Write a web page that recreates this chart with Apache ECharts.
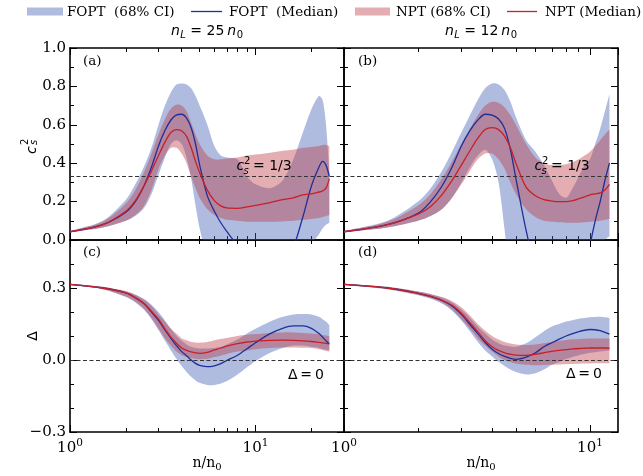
<!DOCTYPE html>
<html>
<head>
<meta charset="utf-8">
<script src="https://cdn.jsdelivr.net/npm/echarts@6.0.0/dist/echarts.min.js"></script>
<style>
html,body{margin:0;padding:0;background:#ffffff;}
#chart{width:643px;height:476px;}
</style>
</head>
<body>
<div id="chart"></div>
<script>
// ---------------- data ----------------
// x grids (n/n0)
const nLeft  = [1, 1.5, 2, 2.25, 2.5, 2.75, 3, 3.25, 3.5, 3.75, 4, 4.25, 4.5, 4.75, 5, 5.5, 6, 6.5, 7, 8, 9, 10, 12, 14, 16, 18, 20, 22, 23, 24, 25];
const nRight = [1, 1.5, 2, 2.25, 2.5, 2.75, 3, 3.25, 3.5, 3.75, 4, 4.25, 4.5, 4.75, 5, 5.5, 6, 6.5, 7, 7.5, 8, 8.5, 9, 9.5, 10, 10.5, 11, 11.5, 12];

// (a) c_s^2, n_L = 25 n0
const aFoptMed = [0.043,0.08,0.145,0.2,0.28,0.38,0.49,0.57,0.625,0.652,0.655,0.635,0.585,0.5,0.39,0.23,0.15,0.09,0.045,-0.03,-0.1,-0.15,-0.2,-0.15,-0.04,0.12,0.28,0.38,0.41,0.39,0.33];
const aFoptLo  = [0.04,0.065,0.1,0.125,0.165,0.24,0.34,0.43,0.5,0.52,0.5,0.43,0.32,0.18,0.06,-0.1,-0.3,-0.3,-0.3,-0.3,-0.3,-0.3,-0.3,-0.3,-0.3,-0.25,-0.03,0.03,0.06,0.08,0.09];
const aFoptHi  = [0.046,0.1,0.21,0.29,0.38,0.48,0.6,0.7,0.77,0.81,0.815,0.81,0.79,0.75,0.7,0.6,0.49,0.44,0.43,0.42,0.33,0.29,0.27,0.31,0.42,0.56,0.68,0.75,0.73,0.6,0.35];
const aNptMed  = [0.043,0.08,0.15,0.205,0.28,0.36,0.44,0.51,0.56,0.575,0.568,0.54,0.48,0.41,0.35,0.26,0.205,0.178,0.167,0.165,0.172,0.18,0.195,0.21,0.22,0.235,0.24,0.25,0.255,0.27,0.32];
const aNptLo   = [0.04,0.065,0.1,0.13,0.175,0.26,0.37,0.44,0.48,0.48,0.45,0.4,0.33,0.27,0.22,0.16,0.13,0.115,0.105,0.1,0.095,0.095,0.095,0.097,0.1,0.105,0.11,0.115,0.12,0.125,0.13];
const aNptHi   = [0.046,0.095,0.19,0.26,0.35,0.45,0.55,0.63,0.685,0.705,0.7,0.67,0.61,0.55,0.5,0.44,0.42,0.42,0.425,0.43,0.44,0.445,0.455,0.465,0.47,0.48,0.485,0.49,0.495,0.495,0.49];

// (b) c_s^2, n_L = 12 n0
const bFoptMed = [0.043,0.08,0.139,0.2,0.28,0.38,0.49,0.57,0.625,0.655,0.65,0.63,0.58,0.47,0.32,0.05,-0.15,-0.3,-0.35,-0.35,-0.35,-0.35,-0.3,-0.2,-0.03,0.1,0.2,0.31,0.4];
const bFoptLo  = [0.04,0.065,0.1,0.125,0.16,0.22,0.3,0.38,0.44,0.47,0.42,0.3,0.05,-0.2,-0.3,-0.3,-0.3,-0.3,-0.3,-0.3,-0.3,-0.3,-0.3,-0.3,-0.25,-0.15,-0.05,0.0,0.02];
const bFoptHi  = [0.046,0.1,0.2,0.27,0.36,0.46,0.56,0.65,0.73,0.79,0.815,0.81,0.78,0.72,0.64,0.52,0.46,0.39,0.31,0.24,0.22,0.27,0.33,0.39,0.42,0.5,0.58,0.67,0.76];
const bNptMed  = [0.043,0.08,0.135,0.175,0.235,0.31,0.39,0.465,0.53,0.575,0.585,0.575,0.54,0.48,0.4,0.275,0.23,0.21,0.203,0.2,0.2,0.205,0.215,0.225,0.235,0.24,0.245,0.26,0.29];
const bNptLo   = [0.04,0.065,0.1,0.125,0.16,0.22,0.29,0.36,0.42,0.45,0.45,0.42,0.37,0.3,0.24,0.16,0.12,0.1,0.095,0.092,0.09,0.09,0.09,0.092,0.095,0.098,0.1,0.105,0.11];
const bNptHi   = [0.046,0.095,0.18,0.24,0.32,0.41,0.5,0.58,0.65,0.7,0.72,0.715,0.69,0.65,0.6,0.5,0.43,0.4,0.39,0.39,0.395,0.405,0.42,0.44,0.46,0.49,0.52,0.55,0.575];

// (c) Delta, n_L = 25 n0
const cFoptMed = [0.315,0.3,0.28,0.26,0.235,0.2,0.165,0.125,0.09,0.06,0.035,0.018,0.0,-0.014,-0.022,-0.028,-0.024,-0.015,-0.002,0.02,0.047,0.072,0.11,0.132,0.142,0.142,0.132,0.11,0.095,0.08,0.068];
const cFoptLo  = [0.312,0.295,0.262,0.24,0.21,0.17,0.125,0.08,0.04,0.005,-0.025,-0.05,-0.07,-0.085,-0.095,-0.104,-0.104,-0.098,-0.088,-0.06,-0.03,-0.005,0.03,0.05,0.06,0.06,0.055,0.05,0.045,0.043,0.04];
const cFoptHi  = [0.318,0.305,0.285,0.272,0.255,0.23,0.2,0.165,0.13,0.1,0.08,0.065,0.055,0.05,0.048,0.048,0.05,0.055,0.065,0.085,0.11,0.13,0.16,0.18,0.19,0.192,0.19,0.18,0.17,0.16,0.145];
const cNptMed  = [0.315,0.3,0.28,0.26,0.236,0.203,0.17,0.13,0.095,0.07,0.05,0.04,0.034,0.03,0.028,0.032,0.042,0.05,0.058,0.068,0.075,0.079,0.082,0.083,0.082,0.08,0.077,0.073,0.071,0.069,0.067];
const cNptLo   = [0.312,0.295,0.265,0.243,0.215,0.175,0.13,0.09,0.06,0.035,0.02,0.012,0.008,0.005,0.003,0.005,0.012,0.018,0.025,0.035,0.04,0.045,0.05,0.052,0.052,0.051,0.05,0.045,0.042,0.038,0.035];
const cNptHi   = [0.318,0.305,0.287,0.272,0.252,0.225,0.19,0.16,0.13,0.11,0.09,0.082,0.075,0.073,0.072,0.075,0.082,0.087,0.092,0.1,0.105,0.108,0.113,0.115,0.115,0.113,0.11,0.107,0.104,0.102,0.1];

// (d) Delta, n_L = 12 n0
const dFoptMed = [0.315,0.3,0.278,0.265,0.248,0.225,0.19,0.148,0.11,0.073,0.045,0.027,0.015,0.007,0.003,0.012,0.03,0.055,0.072,0.087,0.1,0.11,0.118,0.124,0.127,0.126,0.122,0.115,0.108];
const dFoptLo  = [0.312,0.295,0.27,0.255,0.235,0.205,0.165,0.12,0.075,0.04,0.015,-0.007,-0.025,-0.04,-0.05,-0.06,-0.055,-0.04,-0.02,-0.007,0.005,0.013,0.02,0.025,0.03,0.032,0.035,0.037,0.04];
const dFoptHi  = [0.318,0.305,0.285,0.274,0.26,0.24,0.21,0.175,0.14,0.11,0.085,0.07,0.06,0.056,0.055,0.07,0.095,0.12,0.14,0.15,0.16,0.166,0.172,0.175,0.178,0.179,0.18,0.178,0.175];
const dNptMed  = [0.315,0.3,0.278,0.265,0.249,0.228,0.195,0.155,0.117,0.08,0.055,0.04,0.03,0.024,0.02,0.019,0.024,0.03,0.036,0.04,0.043,0.046,0.048,0.049,0.05,0.05,0.05,0.05,0.049];
const dNptLo   = [0.312,0.295,0.272,0.258,0.24,0.21,0.17,0.13,0.09,0.06,0.035,0.015,0.0,-0.008,-0.015,-0.02,-0.022,-0.021,-0.02,-0.019,-0.018,-0.017,-0.016,-0.015,-0.015,-0.014,-0.014,-0.014,-0.014];
const dNptHi   = [0.318,0.305,0.285,0.275,0.262,0.245,0.22,0.185,0.15,0.122,0.1,0.085,0.075,0.069,0.065,0.063,0.065,0.07,0.075,0.079,0.083,0.086,0.088,0.089,0.09,0.09,0.09,0.09,0.09];

// reference lines & axis ranges / ticks
const refLines   = [1/3, 1/3, 0, 0];
const xMaxes     = [30, 13, 30, 13];
const xMinorTicks = [[2,3,4,5,6,7,8,9,20],[2,3,4,5,6,7,8,9],[2,3,4,5,6,7,8,9,20],[2,3,4,5,6,7,8,9]];
const cMajor = [0, 0.2, 0.4, 0.6, 0.8, 1.0];
const cMinor = [0.1, 0.3, 0.5, 0.7, 0.9];
const dMajor = [-0.3, 0, 0.3];
const dMinor = [-0.2, -0.1, 0.1, 0.2, 0.4];

// ---------------- styling ----------------
const BLUE_LINE = '#1f2f98';
const RED_LINE  = '#c8202a';
const BLUE_BAND = 'rgba(66,96,178,0.42)';
const RED_BAND  = 'rgba(185,50,60,0.40)';
const SERIF = 'DejaVu Serif';
const SANS  = 'DejaVu Sans';

const grids = [
  {left:70,  top:48,  width:274, height:192},
  {left:344, top:48,  width:274, height:192},
  {left:70,  top:240, width:274, height:192},
  {left:344, top:240, width:274, height:192}
];

const panels = [
  {xs:nLeft,  fMed:aFoptMed, fLo:aFoptLo, fHi:aFoptHi, nMed:aNptMed, nLo:aNptLo, nHi:aNptHi},
  {xs:nRight, fMed:bFoptMed, fLo:bFoptLo, fHi:bFoptHi, nMed:bNptMed, nLo:bNptLo, nHi:bNptHi},
  {xs:nLeft,  fMed:cFoptMed, fLo:cFoptLo, fHi:cFoptHi, nMed:cNptMed, nLo:cNptLo, nHi:cNptHi},
  {xs:nRight, fMed:dFoptMed, fLo:dFoptLo, fHi:dFoptHi, nMed:dNptMed, nLo:dNptLo, nHi:dNptHi}
];

const spine = {color:'#000', width:1.6};
const tickMaj = {color:'#000', width:1};

const powRich = {
  b: {fontFamily:SERIF, fontSize:15, color:'#000', lineHeight:18, verticalAlign:'bottom'},
  s: {fontFamily:SERIF, fontSize:10.5, color:'#000', lineHeight:6, verticalAlign:'top'}
};
function fmtPow(v) {
  const k = Math.log10(v);
  if (Math.abs(k - Math.round(k)) > 1e-6) return '';
  return '{b|10}{s|' + Math.round(k) + '}';
}
function fmtNum(v) {
  const s = Math.abs(v).toFixed(1);
  return (v < -1e-9 ? '\u2212' : '') + s;
}

const xAxes = [], yAxes = [];
for (let g = 0; g < 4; g++) {
  const top = g < 2;
  const xmax = xMaxes[g];
  const lmax = Math.log10(xmax);
  const minorPos = xMinorTicks[g].map(v => Math.log10(v));
  ['bottom','top'].forEach(pos => {
    xAxes.push({
      type:'log', logBase:10, gridIndex:g, min:1, max:xmax, position:pos,
      axisLine:{show:true, onZero:false, lineStyle:spine},
      axisTick:{show:true, inside:true, length:7, lineStyle:tickMaj},
      axisLabel:{show:(pos === 'bottom' && !top), showMaxLabel:false, margin:6,
                 formatter:fmtPow, rich:powRich},
      splitLine:{show:false}
    });
    xAxes.push({
      type:'value', gridIndex:g, min:0, max:lmax, position:pos,
      axisLine:{show:false, onZero:false},
      axisTick:{show:true, inside:true, length:4, customValues:minorPos, lineStyle:tickMaj},
      axisLabel:{show:false}, splitLine:{show:false}
    });
  });
  const major = top ? cMajor : dMajor;
  const minor = top ? cMinor : dMinor;
  const ymin = top ? 0 : -0.3, ymax = top ? 1 : 0.5;
  ['left','right'].forEach(pos => {
    yAxes.push({
      type:'value', gridIndex:g, min:ymin, max:ymax, position:pos,
      axisLine:{show:true, onZero:false, lineStyle:spine},
      axisTick:{show:true, inside:true, length:7, customValues:major, lineStyle:tickMaj},
      axisLabel:{show:(pos === 'left' && g % 2 === 0), customValues:major, formatter:fmtNum,
                 fontFamily:SERIF, fontSize:15, color:'#000', margin:4},
      splitLine:{show:false}
    });
    yAxes.push({
      type:'value', gridIndex:g, min:ymin, max:ymax, position:pos,
      axisLine:{show:false, onZero:false},
      axisTick:{show:true, inside:true, length:4, customValues:minor, lineStyle:tickMaj},
      axisLabel:{show:false}, splitLine:{show:false}
    });
  });
}

function bandSeries(g, name, xs, lo, hi, color, z) {
  return {
    type:'custom', name:name, coordinateSystem:'cartesian2d',
    xAxisIndex:4*g, yAxisIndex:4*g, clip:true, silent:true, z:z,
    data:[[xs[0], lo[0]]], encode:{x:0, y:1},
    renderItem:function (params, api) {
      const up = xs.map((x, i) => api.coord([x, hi[i]]));
      const dn = xs.map((x, i) => api.coord([x, lo[i]])).reverse();
      const pts = [up[0]].concat(up, [up[up.length-1], dn[0]], dn, [dn[dn.length-1]]);
      return {type:'polygon', shape:{points:pts, smooth:0.3}, style:{fill:color}};
    }
  };
}
function lineSeries(g, name, xs, ys, color, z, ref) {
  const s = {
    type:'line', name:name, xAxisIndex:4*g, yAxisIndex:4*g,
    data:xs.map((x, i) => [x, ys[i]]),
    symbol:'none', showSymbol:false, smooth:0.3, clip:true, silent:true, z:z,
    lineStyle:{color:color, width:1.3}, animation:false
  };
  if (ref !== undefined) {
    s.markLine = {
      silent:true, symbol:['none','none'], label:{show:false}, animation:false,
      lineStyle:{color:'#333333', width:1, type:[4,2.5]},
      data:[{yAxis:ref}]
    };
  }
  return s;
}

const series = [];
panels.forEach((p, g) => {
  series.push(bandSeries(g, 'FOPT (68% CI)', p.xs, p.fLo, p.fHi, BLUE_BAND, 2));
  series.push(bandSeries(g, 'NPT (68% CI)',  p.xs, p.nLo, p.nHi, RED_BAND, 3));
  series.push(lineSeries(g, 'FOPT (Median)', p.xs, p.fMed, BLUE_LINE, 4, refLines[g]));
  series.push(lineSeries(g, 'NPT (Median)',  p.xs, p.nMed, RED_LINE, 5));
});

// ---------------- text / annotations ----------------
const G = [];
const mctx = document.createElement('canvas').getContext('2d');
function measure(t, font) { mctx.font = font; return mctx.measureText(t).width; }
function txt(x, y, text, font, opts) {
  return Object.assign({type:'text', x:x, y:y, z:100, silent:true,
    style:Object.assign({text:text, font:font, fill:'#000', align:'left', verticalAlign:'middle'}, opts || {})});
}
// lay out a math-like string made of pieces [text, font, dy, gapAfter]
function mathText(cx, cy, pieces) {
  let total = 0;
  pieces.forEach(p => { total += measure(p[0], p[1]) + (p[3] || 0); });
  let x = cx - total / 2;
  pieces.forEach(p => {
    G.push(txt(x, cy + (p[2] || 0), p[0], p[1]));
    x += measure(p[0], p[1]) + (p[3] || 0);
  });
}
const F_I14 = 'italic 14px "DejaVu Sans"', F_R14 = '14px "DejaVu Sans"';
const F_I10 = 'italic 10px "DejaVu Sans"', F_R10 = '10px "DejaVu Sans"';

// legend
const LEG = '13.5px "DejaVu Serif"';
G.push({type:'rect', shape:{x:27, y:7.5, width:36, height:8}, style:{fill:BLUE_BAND}, z:100, silent:true});
G.push(txt(67, 12, 'FOPT  (68% CI)', LEG));
G.push({type:'line', shape:{x1:191, y1:11.5, x2:222, y2:11.5}, style:{stroke:BLUE_LINE, lineWidth:1.3}, z:100, silent:true});
G.push(txt(229, 12, 'FOPT  (Median)', LEG));
G.push({type:'rect', shape:{x:355, y:7.5, width:35, height:8}, style:{fill:RED_BAND}, z:100, silent:true});
G.push(txt(396, 12, 'NPT (68% CI)', LEG));
G.push({type:'line', shape:{x1:507, y1:11.5, x2:537, y2:11.5}, style:{stroke:RED_LINE, lineWidth:1.3}, z:100, silent:true});
G.push(txt(545, 12, 'NPT (Median)', LEG));

// panel titles  n_L = 25 n_0
[['25', 207], ['12', 481]].forEach(([v, cx]) => {
  mathText(cx, 31, [
    ['n', F_I14, 0, 0.5], ['L', F_I10, 4, 0], [' = ' + v, F_R14, 0, 3],
    ['n', F_I14, 0, 0.5], ['0', F_R10, 4, 0]
  ]);
});
// panel letters
[['(a)', 83, 61], ['(b)', 358, 61], ['(c)', 83, 252], ['(d)', 358, 252]].forEach(([t, x, y]) => {
  G.push(txt(x, y, t, '13.5px "DejaVu Serif"'));
});
// c_s^2 = 1/3 annotations
[236.5, 534.5].forEach(x0 => {
  G.push(txt(x0, 166.5, 'c', F_I14));
  G.push(txt(x0 + 7.5, 161.5, '2', F_R10));
  G.push(txt(x0 + 7, 171, 's', F_I10));
  G.push(txt(x0 + 16.5, 166.5, '= 1/3', F_R14));
});
// Delta = 0 annotations
[[288, 375], [566, 374]].forEach(([x, y]) => {
  G.push(txt(x, y, '\u0394\u2009=\u20090', F_R14));
});
// x axis titles  n/n_0
[207, 481].forEach(cx => {
  mathText(cx, 463, [['n/n', '14px "DejaVu Serif"', 0, 0], ['0', '10px "DejaVu Serif"', 4, 0]]);
});
// y axis titles (rotated)
G.push({type:'group', x:32.3, y:150, rotation:Math.PI/2, z:100, silent:true, children:[
  {type:'text', x:-4, y:0, style:{text:'c', font:F_I14, fill:'#000', align:'left', verticalAlign:'middle'}},
  {type:'text', x:5, y:2.5, style:{text:'s', font:F_I10, fill:'#000', align:'left', verticalAlign:'middle'}},
  {type:'text', x:5, y:-7, style:{text:'2', font:F_R10, fill:'#000', align:'left', verticalAlign:'middle'}}
]});
G.push({type:'text', x:33, y:336, rotation:Math.PI/2, z:100, silent:true,
  style:{text:'\u0394', font:F_R14, fill:'#000', align:'center', verticalAlign:'middle'}});

const chart = echarts.init(document.getElementById('chart'), null, {renderer:'canvas'});
chart.setOption({
  animation:false,
  backgroundColor:'#ffffff',
  grid:grids,
  xAxis:xAxes,
  yAxis:yAxes,
  series:series,
  graphic:{elements:G}
});
</script>
</body>
</html>
